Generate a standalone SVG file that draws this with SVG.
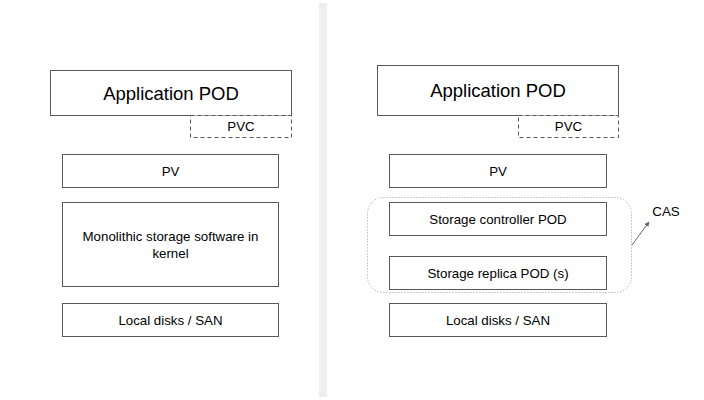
<svg xmlns="http://www.w3.org/2000/svg" width="704" height="400" viewBox="0 0 704 400">
<defs>
<style>
.box{fill:#fff;stroke:#595959;stroke-width:1}
.pvc{fill:#fff;stroke:#595959;stroke-width:1;stroke-dasharray:4,3}
.t{font-family:"Liberation Sans",Arial,sans-serif;fill:#000;text-anchor:middle}
.big{font-size:18.5px}
.sm{font-size:13.3px}
</style>
<marker id="ah" viewBox="0 0 10 10" refX="9" refY="5" markerWidth="5" markerHeight="5" orient="auto">
<path d="M0,0 L10,5 L0,10 z" fill="#666"/>
</marker>
</defs>
<rect width="704" height="400" fill="#fff"/>
<rect id="divider" x="319" y="3" width="8" height="394" fill="#efefef"/>

<g id="left-app"><rect class="box" x="50.5" y="70.5" width="241" height="45"/><text class="t big" x="171" y="100">Application POD</text></g>
<g id="left-pvc"><rect class="pvc" x="190.5" y="115.5" width="101" height="22"/><text class="t sm" x="241" y="131">PVC</text></g>
<g id="left-pv"><rect class="box" x="62.5" y="154.5" width="216" height="33"/><text class="t sm" x="170.5" y="176">PV</text></g>
<g id="left-mono"><rect class="box" x="62.5" y="202.5" width="216" height="84"/><text class="t sm" x="170.5" y="241">Monolithic storage software in</text><text class="t sm" x="170.5" y="258">kernel</text></g>
<g id="left-disks"><rect class="box" x="62.5" y="303.5" width="216" height="33"/><text class="t sm" x="170.5" y="325">Local disks / SAN</text></g>

<g id="right-app"><rect class="box" x="377.5" y="65.5" width="241" height="50"/><text class="t big" x="498" y="97">Application POD</text></g>
<g id="right-pvc"><rect class="pvc" x="518.5" y="115.5" width="100" height="22"/><text class="t sm" x="568.5" y="131">PVC</text></g>
<g id="right-pv"><rect class="box" x="389.5" y="154.5" width="217" height="33"/><text class="t sm" x="498" y="176">PV</text></g>
<g id="cas-group"><rect x="367.5" y="197.5" width="264" height="95" rx="16" ry="16" fill="none" stroke="#999" stroke-width="1" stroke-dasharray="1,2"/></g>
<g id="right-ctrl"><rect class="box" x="389.5" y="202.5" width="217" height="33"/><text class="t sm" x="498" y="224">Storage controller POD</text></g>
<g id="right-replica"><rect class="box" x="389.5" y="256.5" width="217" height="33"/><text class="t sm" x="498" y="277.5">Storage replica POD (s)</text></g>
<g id="right-disks"><rect class="box" x="389.5" y="303.5" width="217" height="33"/><text class="t sm" x="498" y="325">Local disks / SAN</text></g>
<g id="cas-label"><text class="t sm" x="666" y="216">CAS</text></g>

<g id="connectors">
<line x1="632" y1="245" x2="649" y2="222" stroke="#666" stroke-width="1" marker-end="url(#ah)"/>
</g>
</svg>
